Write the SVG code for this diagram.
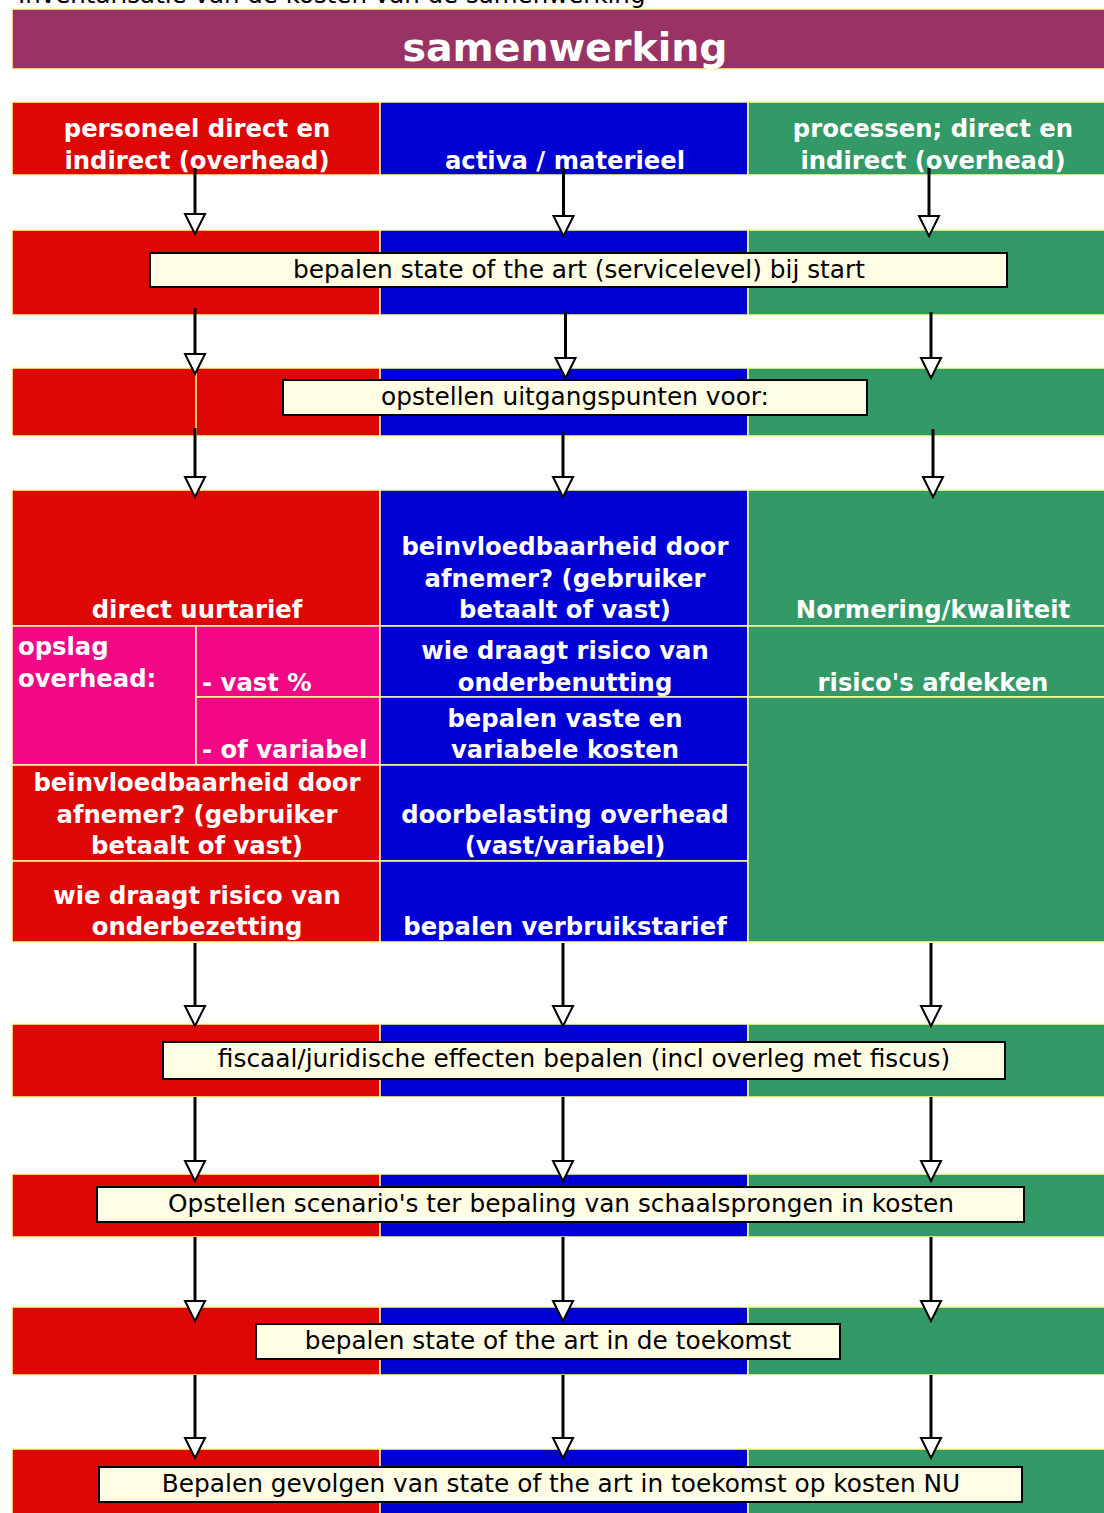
<svg xmlns="http://www.w3.org/2000/svg" width="1104" height="1513" viewBox="0 0 1104 1513">
<style>
.r{fill:#DD0806;stroke:#FFFF99;stroke-width:1.5}
.b{fill:#0000D4;stroke:#FFFF99;stroke-width:1.5}
.g{fill:#339966;stroke:#FFFF99;stroke-width:1.5}
.p{fill:#F20884;stroke:#FFFF99;stroke-width:1.5}
.box{fill:#FFFDE4;stroke:#000;stroke-width:2}
.w{font-family:"DejaVu Sans",Verdana,sans-serif;font-weight:bold;font-size:24.3px;fill:#fff;text-anchor:middle}
.wl{font-family:"DejaVu Sans",Verdana,sans-serif;font-weight:bold;font-size:24.3px;fill:#fff;text-anchor:start}
.k{font-family:"DejaVu Sans",Verdana,sans-serif;font-size:24.8px;fill:#000;text-anchor:middle}
.conn line{stroke:#000;stroke-width:3;marker-end:url(#ah)}
</style>
<defs>
<marker id="ah" markerUnits="userSpaceOnUse" markerWidth="24" markerHeight="24" viewBox="-2 -12 24 24" refX="0" refY="0" orient="auto" overflow="visible">
<path d="M0,-10 L20,0 L0,10 Z" fill="#fff" stroke="#000" stroke-width="2" stroke-linejoin="miter"/>
</marker>
</defs>
<rect width="1104" height="1513" fill="#fff"/>

<text x="18" y="3" font-family="DejaVu Sans, Verdana, sans-serif" font-size="24.5" fill="#000">Inventarisatie van de kosten van de samenwerking</text>

<g id="title">
<rect x="12" y="9" width="1106" height="60" fill="#993366" stroke="#FFFF99" stroke-width="1.5"/>
<text x="565" y="61" font-family="DejaVu Sans, Verdana, sans-serif" font-weight="bold" font-size="39.5" fill="#fff" text-anchor="middle">samenwerking</text>
</g>

<g id="hdr-personeel">
<rect class="r" x="12" y="102" width="368" height="73"/>
<text class="w" x="197" y="137">personeel direct en</text>
<text class="w" x="197" y="169">indirect (overhead)</text>
</g>
<g id="hdr-activa">
<rect class="b" x="380" y="102" width="368" height="73"/>
<text class="w" x="565" y="169">activa / materieel</text>
</g>
<g id="hdr-processen">
<rect class="g" x="748" y="102" width="370" height="73"/>
<text class="w" x="933" y="137">processen; direct en</text>
<text class="w" x="933" y="169">indirect (overhead)</text>
</g>

<g id="step-state-start">
<rect class="r" x="12" y="230" width="368" height="85"/>
<rect class="b" x="380" y="230" width="368" height="85"/>
<rect class="g" x="748" y="230" width="370" height="85"/>
<rect class="box" x="150" y="253" width="857" height="34"/>
<text class="k" x="579" y="278">bepalen state of the art (servicelevel) bij start</text>
</g>

<g id="step-uitgangspunten">
<rect class="r" x="12" y="368" width="368" height="68"/>
<line x1="196" y1="368" x2="196" y2="436" stroke="#FFFF99" stroke-width="1.5"/>
<rect class="b" x="380" y="368" width="368" height="68"/>
<rect class="g" x="748" y="368" width="370" height="68"/>
<rect class="box" x="283" y="380" width="584" height="35"/>
<text class="k" x="575" y="405">opstellen uitgangspunten voor:</text>
</g>

<g id="red-direct-uurtarief">
<rect class="r" x="12" y="490" width="368" height="136"/>
<text class="w" x="197" y="618">direct uurtarief</text>
</g>
<g id="red-opslag">
<rect class="p" x="12" y="626" width="184" height="139"/>
<text class="wl" x="18" y="655">opslag</text>
<text class="wl" x="18" y="687">overhead:</text>
</g>
<g id="red-vast">
<rect class="p" x="196" y="626" width="184" height="71"/>
<text class="wl" x="202" y="691">- vast %</text>
</g>
<g id="red-variabel">
<rect class="p" x="196" y="697" width="184" height="68"/>
<text class="wl" x="202" y="758">- of variabel</text>
</g>
<g id="red-beinvloed">
<rect class="r" x="12" y="765" width="368" height="96"/>
<text class="w" x="197" y="791">beinvloedbaarheid door</text>
<text class="w" x="197" y="823">afnemer? (gebruiker</text>
<text class="w" x="197" y="854">betaalt of vast)</text>
</g>
<g id="red-risico">
<rect class="r" x="12" y="861" width="368" height="81"/>
<text class="w" x="197" y="904">wie draagt risico van</text>
<text class="w" x="197" y="935">onderbezetting</text>
</g>

<g id="blue-beinvloed">
<rect class="b" x="380" y="490" width="368" height="136"/>
<text class="w" x="565" y="555">beinvloedbaarheid door</text>
<text class="w" x="565" y="587">afnemer? (gebruiker</text>
<text class="w" x="565" y="618">betaalt of vast)</text>
</g>
<g id="blue-risico">
<rect class="b" x="380" y="626" width="368" height="71"/>
<text class="w" x="565" y="659">wie draagt risico van</text>
<text class="w" x="565" y="691">onderbenutting</text>
</g>
<g id="blue-vaste">
<rect class="b" x="380" y="697" width="368" height="68"/>
<text class="w" x="565" y="727">bepalen vaste en</text>
<text class="w" x="565" y="758">variabele kosten</text>
</g>
<g id="blue-doorbelasting">
<rect class="b" x="380" y="765" width="368" height="96"/>
<text class="w" x="565" y="823">doorbelasting overhead</text>
<text class="w" x="565" y="854">(vast/variabel)</text>
</g>
<g id="blue-verbruik">
<rect class="b" x="380" y="861" width="368" height="81"/>
<text class="w" x="565" y="935">bepalen verbruikstarief</text>
</g>

<g id="green-normering">
<rect class="g" x="748" y="490" width="370" height="136"/>
<text class="w" x="933" y="618">Normering/kwaliteit</text>
</g>
<g id="green-risico">
<rect class="g" x="748" y="626" width="370" height="71"/>
<text class="w" x="933" y="691">risico's afdekken</text>
</g>
<g id="green-empty">
<rect class="g" x="748" y="697" width="370" height="245"/>
</g>

<g id="step-fiscaal">
<rect class="r" x="12" y="1024" width="368" height="73"/>
<rect class="b" x="380" y="1024" width="368" height="73"/>
<rect class="g" x="748" y="1024" width="370" height="73"/>
<rect class="box" x="163" y="1042" width="842" height="37"/>
<text class="k" x="584" y="1067">fiscaal/juridische effecten bepalen (incl overleg met fiscus)</text>
</g>

<g id="step-scenarios">
<rect class="r" x="12" y="1174" width="368" height="63"/>
<rect class="b" x="380" y="1174" width="368" height="63"/>
<rect class="g" x="748" y="1174" width="370" height="63"/>
<rect class="box" x="97" y="1187" width="927" height="35"/>
<text class="k" x="561" y="1212">Opstellen scenario's ter bepaling van schaalsprongen in kosten</text>
</g>

<g id="step-state-toekomst">
<rect class="r" x="12" y="1307" width="368" height="68"/>
<rect class="b" x="380" y="1307" width="368" height="68"/>
<rect class="g" x="748" y="1307" width="370" height="68"/>
<rect class="box" x="256" y="1324" width="584" height="35"/>
<text class="k" x="548" y="1349">bepalen state of the art in de toekomst</text>
</g>

<g id="step-gevolgen">
<rect class="r" x="12" y="1449" width="368" height="72"/>
<rect class="b" x="380" y="1449" width="368" height="72"/>
<rect class="g" x="748" y="1449" width="370" height="72"/>
<rect class="box" x="99" y="1467" width="923" height="35"/>
<text class="k" x="561" y="1492">Bepalen gevolgen van state of the art in toekomst op kosten NU</text>
</g>

<g id="connectors" class="conn">
<line x1="195" y1="168" x2="195" y2="214"/>
<line x1="563.5" y1="168" x2="563.5" y2="216"/>
<line x1="929" y1="168" x2="929" y2="216"/>

<line x1="195" y1="308" x2="195" y2="354"/>
<line x1="565.5" y1="312" x2="565.5" y2="358"/>
<line x1="931" y1="312" x2="931" y2="358"/>

<line x1="195" y1="428" x2="195" y2="477"/>
<line x1="563" y1="432" x2="563" y2="477"/>
<line x1="933" y1="429" x2="933" y2="477"/>

<line x1="195" y1="943" x2="195" y2="1006"/>
<line x1="563" y1="943" x2="563" y2="1006"/>
<line x1="931" y1="943" x2="931" y2="1006"/>

<line x1="195" y1="1097" x2="195" y2="1161"/>
<line x1="563" y1="1097" x2="563" y2="1161"/>
<line x1="931" y1="1097" x2="931" y2="1161"/>

<line x1="195" y1="1237" x2="195" y2="1301"/>
<line x1="563" y1="1237" x2="563" y2="1301"/>
<line x1="931" y1="1237" x2="931" y2="1301"/>

<line x1="195" y1="1375" x2="195" y2="1438"/>
<line x1="563" y1="1375" x2="563" y2="1438"/>
<line x1="931" y1="1375" x2="931" y2="1438"/>
</g>
</svg>
